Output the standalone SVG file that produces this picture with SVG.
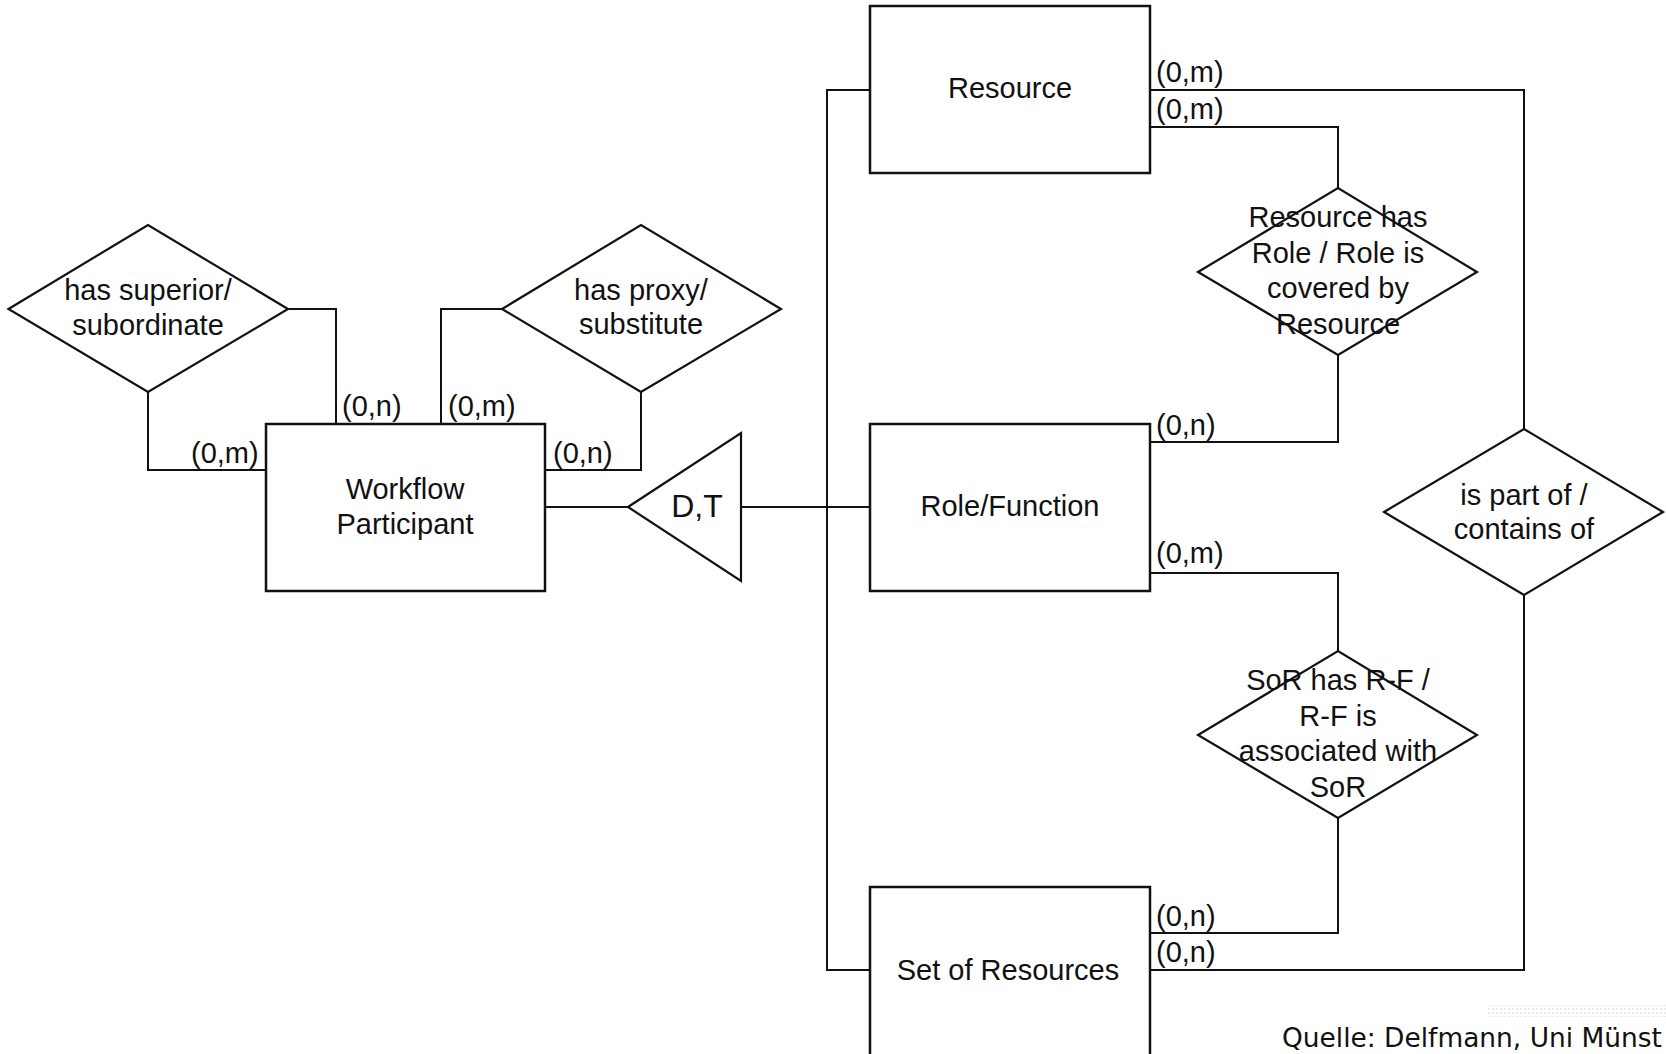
<svg xmlns="http://www.w3.org/2000/svg" width="1666" height="1054" viewBox="0 0 1666 1054">
  <defs>
    <style>
      .entity { fill: #fff; stroke: #111; stroke-width: 2.5; }
      .rel { fill: #fff; stroke: #111; stroke-width: 2.2; }
      .conn { fill: none; stroke: #111; stroke-width: 2; }
      .lbl { font-family: "Liberation Sans", Arial, sans-serif; font-size: 29px; fill: #111; text-anchor: middle; }
      .card { font-family: "Liberation Sans", Arial, sans-serif; font-size: 29px; fill: #111; }
      .gen { font-family: "Liberation Sans", Arial, sans-serif; font-size: 32px; fill: #111; text-anchor: middle; }
      .src { font-family: "DejaVu Sans", Verdana, sans-serif; font-size: 26px; fill: #111; }
    </style>
    <pattern id="dots" x="0" y="0" width="4" height="4" patternUnits="userSpaceOnUse">
      <circle cx="1" cy="1" r="0.8" fill="#d4d4d4"/>
    </pattern>
  </defs>
  <rect width="1666" height="1054" fill="#fff"/>

  <!-- connectors -->
  <g id="connectors">
    <path class="conn" d="M289,309 H336 V424"/>
    <path class="conn" d="M148,392 V470 H266"/>
    <path class="conn" d="M502,309 H441 V424"/>
    <path class="conn" d="M641,392 V470 H545"/>
    <path class="conn" d="M545,507 H628"/>
    <path class="conn" d="M741,507 H870"/>
    <path class="conn" d="M870,90 H827 V970 H870"/>
    <path class="conn" d="M1150,90 H1524 V429"/>
    <path class="conn" d="M1150,127 H1338 V188"/>
    <path class="conn" d="M1338,355 V442 H1150"/>
    <path class="conn" d="M1150,573 H1338 V651"/>
    <path class="conn" d="M1338,818 V933 H1150"/>
    <path class="conn" d="M1524,595 V970 H1150"/>
  </g>

  <!-- cardinalities -->
  <g id="cardinalities">
    <text class="card" x="342" y="416">(0,n)</text>
    <text class="card" x="448" y="416">(0,m)</text>
    <text class="card" x="191" y="463">(0,m)</text>
    <text class="card" x="553" y="463">(0,n)</text>
    <text class="card" x="1156" y="82">(0,m)</text>
    <text class="card" x="1156" y="119">(0,m)</text>
    <text class="card" x="1156" y="435">(0,n)</text>
    <text class="card" x="1156" y="563">(0,m)</text>
    <text class="card" x="1156" y="926">(0,n)</text>
    <text class="card" x="1156" y="962">(0,n)</text>
  </g>

  <!-- entities -->
  <g id="workflow-participant">
    <rect class="entity" x="266" y="424" width="279" height="167"/>
    <text class="lbl" x="405" y="499">Workflow</text>
    <text class="lbl" x="405" y="534">Participant</text>
  </g>
  <g id="resource">
    <rect class="entity" x="870" y="6" width="280" height="167"/>
    <text class="lbl" x="1010" y="98">Resource</text>
  </g>
  <g id="role-function">
    <rect class="entity" x="870" y="424" width="280" height="167"/>
    <text class="lbl" x="1010" y="516">Role/Function</text>
  </g>
  <g id="set-of-resources">
    <rect class="entity" x="870" y="887" width="280" height="172"/>
    <text class="lbl" x="1008" y="980">Set of Resources</text>
  </g>

  <!-- specialization -->
  <g id="specialization">
    <polygon class="rel" points="628,507 741,433 741,581"/>
    <text class="gen" x="697" y="517">D,T</text>
  </g>

  <!-- relationships -->
  <g id="has-superior">
    <polygon class="rel" points="8.5,309 148,225 288,309 148,392"/>
    <text class="lbl" x="148" y="300">has superior/</text>
    <text class="lbl" x="148" y="335">subordinate</text>
  </g>
  <g id="has-proxy">
    <polygon class="rel" points="502,309 641,225 781,309 641,392"/>
    <text class="lbl" x="641" y="300">has proxy/</text>
    <text class="lbl" x="641" y="334">substitute</text>
  </g>
  <g id="resource-has-role">
    <polygon class="rel" points="1198,272 1338,188 1477,272 1338,355"/>
    <text class="lbl" x="1338" y="227">Resource has</text>
    <text class="lbl" x="1338" y="263">Role / Role is</text>
    <text class="lbl" x="1338" y="298">covered by</text>
    <text class="lbl" x="1338" y="334">Resource</text>
  </g>
  <g id="is-part-of">
    <polygon class="rel" points="1384,512 1524,429 1663,512 1524,595"/>
    <text class="lbl" x="1524" y="505">is part of /</text>
    <text class="lbl" x="1524" y="539">contains of</text>
  </g>
  <g id="sor-has-rf">
    <polygon class="rel" points="1198,735 1338,651 1477,735 1338,818"/>
    <text class="lbl" x="1338" y="690">SoR has R-F /</text>
    <text class="lbl" x="1338" y="726">R-F is</text>
    <text class="lbl" x="1338" y="761">associated with</text>
    <text class="lbl" x="1338" y="797">SoR</text>
  </g>

  <!-- source note -->
  <g id="source">
    <rect x="1488" y="1005" width="178" height="12" fill="url(#dots)"/>
    <text class="src" x="1282" y="1047" textLength="380" lengthAdjust="spacingAndGlyphs">Quelle: Delfmann, Uni Münst</text>
  </g>
</svg>
